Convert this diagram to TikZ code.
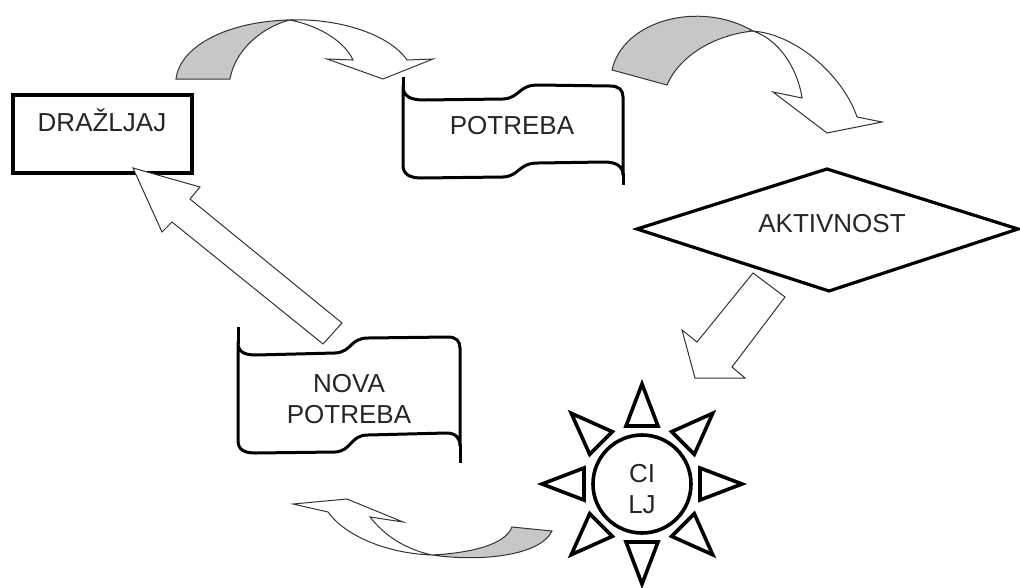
\documentclass[tikz,border=0pt]{standalone}
\usepackage{fontspec}
\setmainfont{Liberation Sans}
\begin{document}
\begin{tikzpicture}[x=1pt,y=-1pt,
  lbl/.style={font=\fontsize{26}{31}\selectfont, text=black!85, inner sep=0pt, align=center},
  shapeline/.style={line width=3pt, draw=black, fill=white, line join=round},
  blockarrow/.style={draw=black!80, line width=1pt, fill=white, line join=miter},
  grayback/.style={draw=black!80, line width=1pt, fill=black!22, line join=miter},
  rayline/.style={line width=3.6pt, draw=black, fill=white, line join=miter},
]
\useasboundingbox (0,0) rectangle (1020,587);

% ---------- DRAZLJAJ box ----------
\node[draw=black, line width=3.2pt, minimum width=179pt, minimum height=78pt, inner sep=0pt] (drzbox) at (102.5,134) {};
\node[lbl] (drz) at (102,120) {DRAŽLJAJ};

% ---------- POTREBA banner ----------
\draw[shapeline] (403,86) .. controls (403,96) and (410,100) .. (424,100) -- (503,99)
  .. controls (520,98) and (518,85) .. (538,85) -- (610,86)
  .. controls (619,86) and (623,90) .. (623,97) -- (623,175)
  .. controls (623,166) and (616,162) .. (604,162) -- (538,163)
  .. controls (518,163) and (520,176) .. (503,177) -- (422,178)
  .. controls (409,178) and (403,174) .. (403,165) -- cycle;
\draw[line width=3pt] (403,77) -- (403,88);
\draw[line width=3pt] (623,173) -- (623,185);
\node[lbl] (potreba) at (512,126) {POTREBA};

% ---------- AKTIVNOST diamond ----------
\coordinate (dl) at (637,229);
\coordinate (dt) at (827,169);
\coordinate (dr) at (1018,229);
\coordinate (db) at (829,291);
\draw[line width=3.2pt, fill=white, line join=miter] (dl) -- (dt) -- (dr) -- (db) -- cycle;
\node[lbl] (akt) at (832,224) {AKTIVNOST};

% ---------- NOVA POTREBA banner ----------
\draw[shapeline] (238,342) .. controls (238,352) and (244,355) .. (256,355) -- (335,353)
  .. controls (352,352) and (350,338) .. (368,338) -- (448,337)
  .. controls (456,337) and (460,341) .. (460,348) -- (460,446)
  .. controls (460,437) and (455,433) .. (446,433) -- (368,435)
  .. controls (350,435) and (352,451) .. (335,452) -- (256,453)
  .. controls (244,453) and (238,450) .. (238,440) -- cycle;
\draw[line width=3pt] (238,327) -- (238,344);
\draw[line width=3pt] (460,444) -- (460,463);
\node[lbl] (nova) at (349,399) {NOVA\\POTREBA};

% ---------- CILJ sun ----------
\foreach \a in {0,45,...,315}{
  \draw[rayline, shift={(642,484)}, rotate=\a] (58,16) -- (100,0) -- (58,-16) -- cycle;
}
\node[circle, draw=black, line width=3.6pt, fill=white, minimum size=98pt, inner sep=0pt] (cilj) at (642,484) {};
\node[lbl] (ciljt) at (642,489) {CI\\LJ};

% ---------- curved arrow 1 (DRAZLJAJ -> POTREBA) ----------
\draw[grayback] (176,79) .. controls (180,45) and (230,21) .. (290,20)
  .. controls (262,27) and (235,50) .. (230,79) -- cycle;
\draw[blockarrow] (290,20) .. controls (340,18) and (390,35) .. (407,60)
  -- (433,59) -- (383,79) -- (327,59) -- (353,60)
  .. controls (345,42) and (320,26) .. (290,20) -- cycle;

% ---------- curved arrow 2 (POTREBA -> AKTIVNOST) ----------
\draw[grayback] (612,70) .. controls (623,20) and (700,0) .. (753,31)
  .. controls (715,35) and (680,55) .. (667,85) -- cycle;
\draw[blockarrow] (753,31) .. controls (800,35) and (845,80) .. (857,117)
  -- (882,122) -- (827,133) -- (773,92) -- (802,98)
  .. controls (798,70) and (780,40) .. (753,31) -- cycle;

% ---------- straight arrow (AKTIVNOST -> CILJ) ----------
\draw[blockarrow] (753,273) -- (785,297) -- (732,367) -- (745,378) -- (695,378) -- (682,330) -- (697,342) -- cycle;

% ---------- curved arrow 3 (CILJ -> NOVA POTREBA) ----------
\draw[grayback] (432,555) .. controls (480,562) and (540,556) .. (552,531)
  -- (512,527) .. controls (505,545) and (470,553) .. (432,555) -- cycle;
\draw[blockarrow] (432,555) .. controls (380,553) and (342,532) .. (328,512)
  -- (293,504) -- (347,499) -- (403,522) -- (370,517)
  .. controls (385,536) and (405,549) .. (432,555) -- cycle;

% ---------- straight arrow (NOVA POTREBA -> DRAZLJAJ) ----------
\draw[blockarrow] (133,168) -- (200,187) -- (190,199) -- (342,323) -- (323,344) -- (172,222) -- (162,232) -- cycle;
\end{tikzpicture}
\end{document}
